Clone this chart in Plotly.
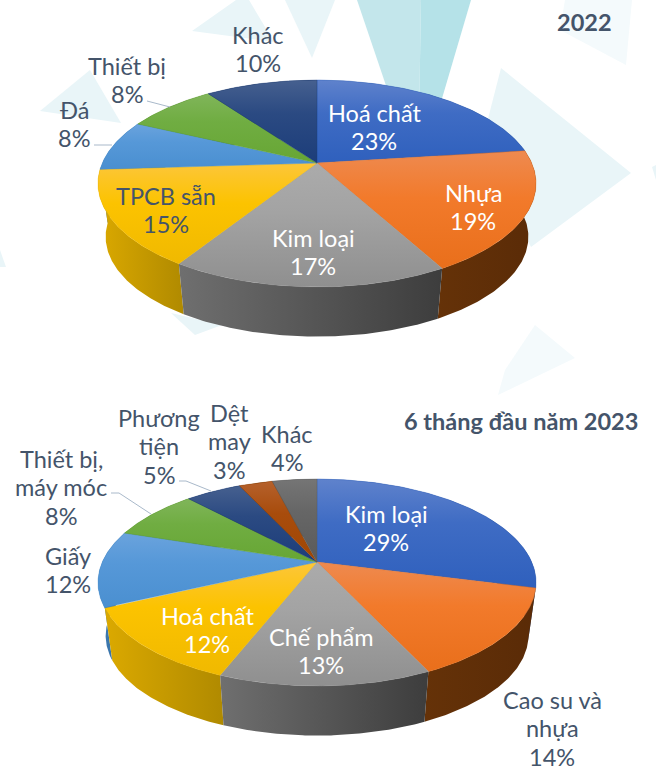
import numpy as np
import plotly.graph_objects as go

# ---- data ----
names_2022 = ["Hoá chất", "Nhựa", "Kim loại", "TPCB sẵn", "Đá", "Thiết bị", "Khác"]
values_2022 = [23, 19, 17, 15, 8, 8, 10]
names_2023 = ["Kim loại", "Cao su và<br>nhựa", "Chế phẩm", "Hoá chất", "Giấy",
              "Thiết bị,<br>máy móc", "Phương<br>tiện", "Dệt<br>may", "Khác"]
values_2023 = [29, 14, 13, 12, 12, 8, 5, 3, 4]
title_2022 = "2022"
title_2023 = "6 tháng đầu năm 2023"

# ---- styles ----
W, H = 656, 771
DARK = "#44546a"
styles_2022 = ["blue", "orange", "grey", "gold", "sky", "green", "navy"]
styles_2023 = ["blue", "orange", "grey", "gold", "sky", "green", "navy", "brown", "slate"]
TOP = {"blue": ("#5f82cc", "#3f6cc4", "#2f60bd"), "orange": ("#ee8a50", "#f27a2b", "#e96f1b"),
       "grey": ("#ababab", "#a3a3a3", "#8f8f8f"), "gold": ("#fcc63a", "#fcc300", "#f0b900"),
       "sky": ("#6aa3dd", "#5698d8", "#4a8fd0"), "green": ("#80b55a", "#70ad42", "#67a634"),
       "navy": ("#46608f", "#2b4a82", "#1c3d7a"), "brown": ("#b5612c", "#a84c0c", "#a04703"),
       "slate": ("#757575", "#666666", "#5a5a5a")}
SIDE = {"blue": ("#3c6cb0", "#2a4f88"), "orange": ("#653208", "#5a2b07"),
        "grey": ("#6f6f6f", "#3d3d3d"), "gold": ("#dba900", "#b08a00"),
        "sky": ("#3f7db5", "#33689a"), "green": ("#4f7f30", "#436e29"),
        "navy": ("#1c3358", "#1c3358"), "brown": ("#6a3409", "#6a3409"),
        "slate": ("#4a4a4a", "#4a4a4a")}
LABEL_POS_2022 = [(374, 127, "white"), (473, 207, "white"), (313, 252, "white"),
                  (166, 210, DARK), (74, 124, DARK), (127, 80, DARK), (258, 49, DARK)]
LABEL_POS_2023 = [(386, 528, "white"), (552, 728, DARK), (321, 651, "white"),
                  (207, 630, "white"), (68, 570, DARK), (61, 487, DARK),
                  (159, 446, DARK), (229, 441, DARK), (287, 448, DARK)]

# Projection of the tilted disc
CX, A, B, K, DEPTH, BOTTOM_SCALE = 317, 214.7, 99.4, 0.198, 54, 0.965

def project(theta, cy, bottom=False):
    u, v = np.sin(theta), -np.cos(theta)
    d = 1 - K * v
    x, y = A * u / d, B * v / d
    if bottom:
        return CX + BOTTOM_SCALE * x, cy + BOTTOM_SCALE * y + DEPTH
    return CX + x, cy + y

fig = go.Figure()

def add_pie(values, styles, cy):
    edges = 2 * np.pi * np.concatenate([[0], np.cumsum(values)]) / sum(values)
    slices = list(zip(edges[:-1], edges[1:], styles))
    # walls, back to front
    for a, b, st in sorted(slices, key=lambda s: -np.cos((s[0] + s[1]) / 2)):
        t = np.linspace(a, b, 90)
        x1, y1 = project(t, cy)
        x2, y2 = project(t[::-1], cy, bottom=True)
        x, y = np.r_[x1, x2, x1[0]], np.r_[y1, y2, y1[0]]
        c = SIDE[st]
        fig.add_trace(go.Scatter(x=x, y=y, mode="lines", line=dict(width=0), fill="toself",
                                 fillgradient=dict(type="horizontal", start=x.min(), stop=x.max(),
                                                   colorscale=[[0, c[0]], [1, c[1]]]),
                                 hoverinfo="skip", showlegend=False))
    # top faces
    for a, b, st in slices:
        t = np.linspace(a, b, 120)
        xa, ya = project(t, cy)
        x, y = np.r_[CX, xa, CX], np.r_[cy, ya, cy]
        c = TOP[st]
        fig.add_trace(go.Scatter(x=x, y=y, mode="lines", line=dict(width=0.4, color=c[2]), fill="toself",
                                 fillgradient=dict(type="vertical", start=y.min(), stop=y.max(),
                                                   colorscale=[[0, c[0]], [0.4, c[1]], [1, c[2]]]),
                                 hoverinfo="skip", showlegend=False))

add_pie(values_2022, styles_2022, 163)
add_pie(values_2023, styles_2023, 562)

# background decoration
PALE, VPALE = "#e9f5f8", "#f4fafc"
background = [
    ([(357, 0), (421, 0), (418, 180)], "#c3e6eb"),
    ([(421, 0), (471, 0), (418, 180)], "#b5e2e8"),
    ([(192, 31), (236, 0), (249, 0), (274, 42)], PALE),
    ([(285, 0), (335, 0), (312, 58)], PALE),
    ([(40, 111), (90, 70), (121, 123)], PALE),
    ([(501, 68), (631, 173), (531, 247), (480, 150)], PALE),
    ([(565, 0), (632, 0), (626, 65), (560, 30)], VPALE),
    ([(652, 167), (656, 165), (656, 180)], PALE),
    ([(0, 250), (6, 267), (0, 267)], PALE),
    ([(171, 313), (195, 335), (222, 325)], PALE),
    ([(535, 325), (575, 358), (498, 395), (505, 370)], VPALE),
]
shapes = []
for pts, col in background:
    path = "M" + " L".join(f"{x},{y}" for x, y in pts) + " Z"
    shapes.append(dict(type="path", path=path, fillcolor=col, line=dict(width=0),
                       xref="x", yref="y", layer="below"))
# leader lines
leaders = [[(147, 101), (170, 107)], [(94, 145), (112, 145)],
           [(111, 493), (119, 493), (151, 514)], [(179, 481), (186, 481), (211, 491)]]
for pts in leaders:
    path = "M" + " L".join(f"{x},{y}" for x, y in pts)
    shapes.append(dict(type="path", path=path, line=dict(width=1, color="#a9b9ca"),
                       xref="x", yref="y", layer="above"))

FONT = "Lato"
SIZE = 23.5
LINE = 28.5
annotations = []
for names, values, pos in [(names_2022, values_2022, LABEL_POS_2022),
                           (names_2023, values_2023, LABEL_POS_2023)]:
    for n, v, (x, y, col) in zip(names, values, pos):
        lines = n.split("<br>") + [f"{v}%"]
        for i, line in enumerate(lines):
            annotations.append(dict(x=x, y=y + (i - (len(lines) - 1) / 2) * LINE, xref="x", yref="y",
                                    text=line, showarrow=False, xanchor="center", yanchor="middle",
                                    font=dict(family=FONT, size=SIZE, color=col)))
annotations.append(dict(x=584, y=22, xref="x", yref="y", text=f"<b>{title_2022}</b>", showarrow=False,
                        font=dict(family=FONT, size=SIZE, color=DARK)))
annotations.append(dict(x=521, y=421, xref="x", yref="y", text=f"<b>{title_2023}</b>", showarrow=False,
                        font=dict(family=FONT, size=SIZE, color=DARK)))

fig.update_layout(
    width=W, height=H, margin=dict(l=0, r=0, t=0, b=0),
    paper_bgcolor="white", plot_bgcolor="white", showlegend=False,
    xaxis=dict(range=[0, W], visible=False, fixedrange=True),
    yaxis=dict(range=[H, 0], visible=False, fixedrange=True),
    shapes=shapes, annotations=annotations,
)
fig.write_html("out.html", config={"displayModeBar": False},
               post_script="document.body.style.margin='0';document.documentElement.style.overflow='hidden';")
